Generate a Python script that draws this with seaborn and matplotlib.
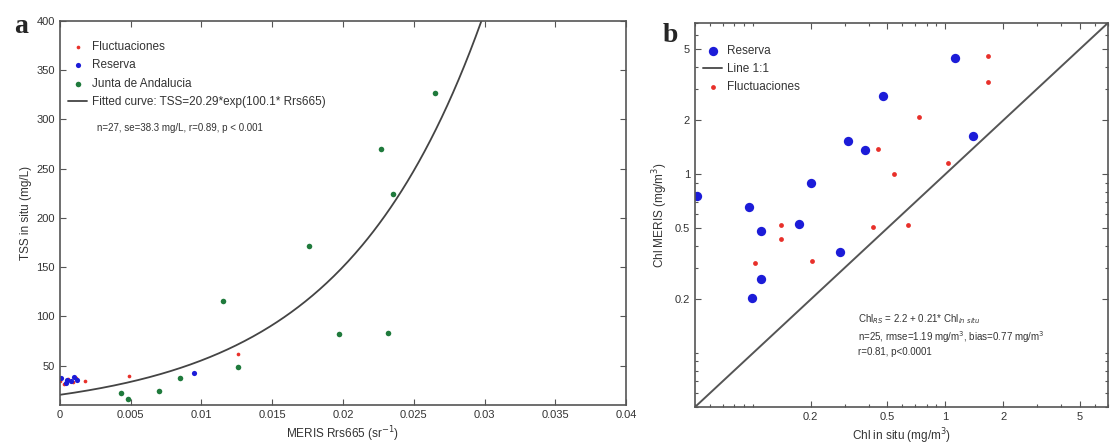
import numpy as np
import pandas as pd
import matplotlib
matplotlib.use("Agg")
import matplotlib.pyplot as plt
import seaborn as sns
from matplotlib.ticker import FixedLocator, FixedFormatter, LogLocator, NullFormatter

# ---------------- data : panel a ----------------
fluc_a_x = [0.0000, 0.0003, 0.0006, 0.0009, 0.0011, 0.0018, 0.0049, 0.0126]
fluc_a_y = [34, 31, 36, 33, 37, 33.8, 39, 62]
res_a_x = [0.0001, 0.0004, 0.0005, 0.0008, 0.0010, 0.0012, 0.0095]
res_a_y = [37, 32, 35, 34, 38, 35, 42.6]
junta_x = [0.0043, 0.0048, 0.0070, 0.0085, 0.0115, 0.0126, 0.0176, 0.0197,
           0.0227, 0.0232, 0.0235, 0.0265]
junta_y = [22, 16, 24, 37.5, 116, 49, 171, 82, 270, 83, 224, 327]
fit_a, fit_b = 20.29, 100.1

# ---------------- data : panel b ----------------
res_b_x = [0.051, 0.096, 0.111, 0.174, 0.200, 0.314, 0.382, 0.474, 1.13, 1.40,
           0.283, 0.110, 0.099]
res_b_y = [0.76, 0.655, 0.48, 0.53, 0.90, 1.54, 1.36, 2.75, 4.47, 1.64,
           0.37, 0.26, 0.203]
fluc_b_x = [1.66, 1.66, 0.73, 0.45, 0.54, 1.03, 0.14, 0.14, 0.42, 0.64, 0.103, 0.204]
fluc_b_y = [4.6, 3.3, 2.08, 1.38, 1.0, 1.16, 0.52, 0.435, 0.51, 0.52, 0.318, 0.326]

RED = "#e8302a"
BLUE = "#1c1cd8"
GREEN = "#1f7a3c"
TXT = "#333333"

sns.set_style("ticks")
plt.rcParams["font.family"] = ["Liberation Sans", "DejaVu Sans"]
plt.rcParams["axes.edgecolor"] = "#555555"
plt.rcParams["axes.linewidth"] = 1.2
plt.rcParams["xtick.color"] = "#555555"
plt.rcParams["ytick.color"] = "#555555"
plt.rcParams["xtick.labelcolor"] = TXT
plt.rcParams["ytick.labelcolor"] = TXT

fig = plt.figure(figsize=(11.1, 4.44), dpi=100)
axa = fig.add_axes([0.054, 0.088, 0.510, 0.865])
axb = fig.add_axes([0.626, 0.083, 0.372, 0.865])

# ---------------- panel a ----------------
sns.scatterplot(x=fluc_a_x, y=fluc_a_y, ax=axa, color=RED, s=7, linewidth=0,
                label="Fluctuaciones")
sns.scatterplot(x=res_a_x, y=res_a_y, ax=axa, color=BLUE, s=14, linewidth=0,
                label="Reserva")
sns.scatterplot(x=junta_x, y=junta_y, ax=axa, color=GREEN, s=16, linewidth=0,
                label="Junta de Andalucia")
xc = np.linspace(0, 0.04, 400)
curve = pd.DataFrame({"x": xc, "y": fit_a * np.exp(fit_b * xc)})
sns.lineplot(data=curve, x="x", y="y", ax=axa, color="#444444", lw=1.3,
             label="Fitted curve: TSS=20.29*exp(100.1* Rrs665)")
axa.set_xlim(0, 0.04)
axa.set_ylim(10, 400)
xt = [0, 0.005, 0.01, 0.015, 0.02, 0.025, 0.03, 0.035, 0.04]
axa.set_xticks(xt)
axa.set_xticklabels(["0", "0.005", "0.01", "0.015", "0.02", "0.025", "0.03", "0.035", "0.04"])
axa.set_yticks([50, 100, 150, 200, 250, 300, 350, 400])
axa.tick_params(direction="in", top=True, right=True, labelsize=8, length=4, width=0.8)
axa.set_xlabel("MERIS Rrs665 (sr$^{-1}$)", fontsize=8.5, color=TXT, labelpad=3)
axa.set_ylabel("TSS in situ (mg/L)", fontsize=8.5, color=TXT, labelpad=3)
leg = axa.legend(loc="upper left", bbox_to_anchor=(0.0, 0.97), frameon=False,
                 fontsize=8.5, handlelength=1.6, handletextpad=0.4,
                 labelspacing=0.55, borderaxespad=0.3)
for t in leg.get_texts():
    t.set_color(TXT)
axa.text(0.065, 0.712, "n=27, se=38.3 mg/L, r=0.89, p < 0.001", transform=axa.transAxes,
         fontsize=7, color=TXT)
fig.text(0.013, 0.925, "a", fontsize=20, fontweight="bold", family="Liberation Serif")

# ---------------- panel b ----------------
lo, hi = 0.05, 7.0
sns.scatterplot(x=res_b_x, y=res_b_y, ax=axb, color=BLUE, s=45, linewidth=0,
                label="Reserva")
one = pd.DataFrame({"x": [lo, hi], "y": [lo, hi]})
sns.lineplot(data=one, x="x", y="y", ax=axb, color="#555555", lw=1.4, label="Line 1:1")
sns.scatterplot(x=fluc_b_x, y=fluc_b_y, ax=axb, color=RED, s=12, linewidth=0,
                label="Fluctuaciones")
axb.set_xscale("log")
axb.set_yscale("log")
axb.set_xlim(lo, hi)
axb.set_ylim(lo, hi)
ticks = [0.2, 0.5, 1, 2, 5]
labs = ["0.2", "0.5", "1", "2", "5"]
for ax_ in (axb.xaxis, axb.yaxis):
    ax_.set_major_locator(FixedLocator(ticks))
    ax_.set_major_formatter(FixedFormatter(labs))
    ax_.set_minor_locator(LogLocator(base=10, subs=np.arange(1, 10)))
    ax_.set_minor_formatter(NullFormatter())
axb.tick_params(which="both", direction="in", top=True, right=True, labelsize=8, width=0.8)
axb.tick_params(which="major", length=4)
axb.tick_params(which="minor", length=2)
axb.set_xlabel("Chl in situ (mg/m$^3$)", fontsize=8.5, color=TXT, labelpad=3)
axb.set_ylabel("Chl MERIS (mg/m$^3$)", fontsize=8.5, color=TXT, labelpad=3)
legb = axb.legend(loc="upper left", bbox_to_anchor=(0.0, 0.965), frameon=False,
                  fontsize=8.5, handlelength=1.6, handletextpad=0.4,
                  labelspacing=0.5, borderaxespad=0.3)
for t in legb.get_texts():
    t.set_color(TXT)
axb.text(0.395, 0.135,
         "Chl$_{RS}$ = 2.2 + 0.21* Chl$_{in\\ situ}$\n"
         "n=25, rmse=1.19 mg/m$^3$, bias=0.77 mg/m$^3$\n"
         "r=0.81, p<0.0001",
         transform=axb.transAxes, fontsize=7, color=TXT, linespacing=1.3)
fig.text(0.597, 0.905, "b", fontsize=20, fontweight="bold", family="Liberation Serif")

fig.savefig("out.png", dpi=100)
